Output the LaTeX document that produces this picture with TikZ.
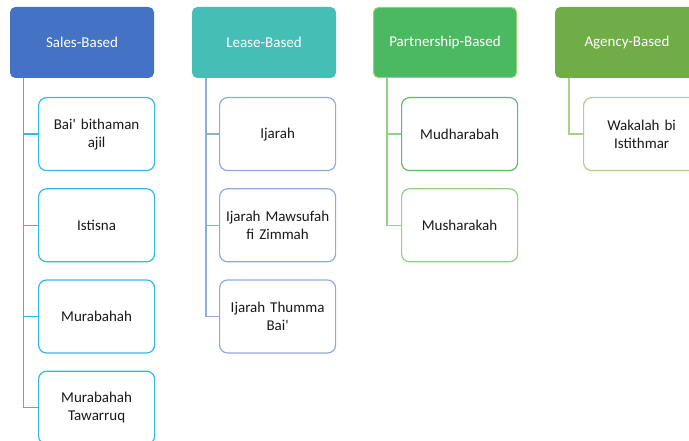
\documentclass[tikz,border=0pt]{standalone}
\usepackage{fontspec}
\setmainfont{Carlito}
\usepackage{tikz}
\usetikzlibrary{positioning,calc}
\definecolor{SalesFill}{HTML}{4472C4}
\definecolor{SalesLine}{HTML}{33B8EE}
\definecolor{LeaseFill}{HTML}{45BEB6}
\definecolor{LeaseLine}{HTML}{8FAADC}
\definecolor{PartFill}{HTML}{4BB862}
\definecolor{PartEdge}{HTML}{92D36A}
\definecolor{PartLine}{HTML}{8FD282}
\definecolor{AgencyFill}{HTML}{70AD47}
\definecolor{AgencyLine}{HTML}{A9D18E}
\definecolor{ItemText}{HTML}{1A1A1A}

\begin{document}
\begin{tikzpicture}[x=1pt,y=-1pt,
  head/.style={rectangle,rounded corners=5pt,minimum width=143pt,
    minimum height=70pt,inner sep=0pt,text=white,line width=1pt,
    font=\fontsize{15}{18}\selectfont},
  item/.style={rectangle,rounded corners=8pt,draw,fill=white,
    line width=1.2pt,minimum width=116pt,minimum height=73pt,
    text width=114pt,align=center,inner sep=0pt,text=ItemText,
    font=\fontsize{15}{18}\selectfont},
  link/.style={line width=1.3pt}]
  \clip (0,0) rectangle (689,441);
  \fill[white] (0,0) rectangle (689,441);
  % Sales-Based
  \node[head,fill=SalesFill,draw=SalesFill,anchor=north west] (sales) at (10,7) {Sales-Based};
  \node[item,draw=SalesLine,below=19pt of sales.south west,anchor=north west,xshift=28pt] (bai) {Bai\textquotesingle{} bithaman\\ajil};
  \node[item,draw=SalesLine,below=17pt of bai] (istisna) {Istisna};
  \node[item,draw=SalesLine,below=17pt of istisna] (murabahah) {Murabahah};
  \node[item,draw=SalesLine,below=17pt of murabahah] (tawarruq) {Murabahah\\Tawarruq};
  \foreach \n in {bai,istisna,murabahah,tawarruq}
    \draw[link,SalesLine] ($(sales.south west)+(13.5,0)$) |- (\n.west);
  % Lease-Based
  \node[head,fill=LeaseFill,draw=LeaseFill,anchor=north west] (lease) at (192,7) {Lease-Based};
  \node[item,draw=LeaseLine,below=19pt of lease.south west,anchor=north west,xshift=27pt] (ijarah) {Ijarah};
  \node[item,draw=LeaseLine,below=17pt of ijarah] (mawsufah) {Ijarah Mawsufah\\fi Zimmah};
  \node[item,draw=LeaseLine,below=17pt of mawsufah] (thumma) {Ijarah Thumma\\Bai\textquotesingle};
  \foreach \n in {ijarah,mawsufah,thumma}
    \draw[link,LeaseLine] ($(lease.south west)+(14,0)$) |- (\n.west);
  % Partnership-Based
  \node[head,fill=PartFill,draw=PartEdge,anchor=north west] (part) at (373,7) {Partnership-Based};
  \node[item,draw=PartFill!80!PartEdge,below=19pt of part.south west,anchor=north west,xshift=28pt] (mudharabah) {Mudharabah};
  \node[item,draw=PartLine,below=17pt of mudharabah] (musharakah) {Musharakah};
  \foreach \n in {mudharabah,musharakah}
    \draw[link,PartLine] ($(part.south west)+(14,0)$) |- (\n.west);
  % Agency-Based
  \node[head,fill=AgencyFill,draw=AgencyFill,anchor=north west] (agency) at (555,7) {Agency-Based};
  \node[item,draw=AgencyLine,below=19pt of agency.south west,anchor=north west,xshift=28pt] (wakalah) {Wakalah bi\\Istithmar};
  \draw[link,AgencyLine] ($(agency.south west)+(14,0)$) |- (wakalah.west);
\end{tikzpicture}
\end{document}
